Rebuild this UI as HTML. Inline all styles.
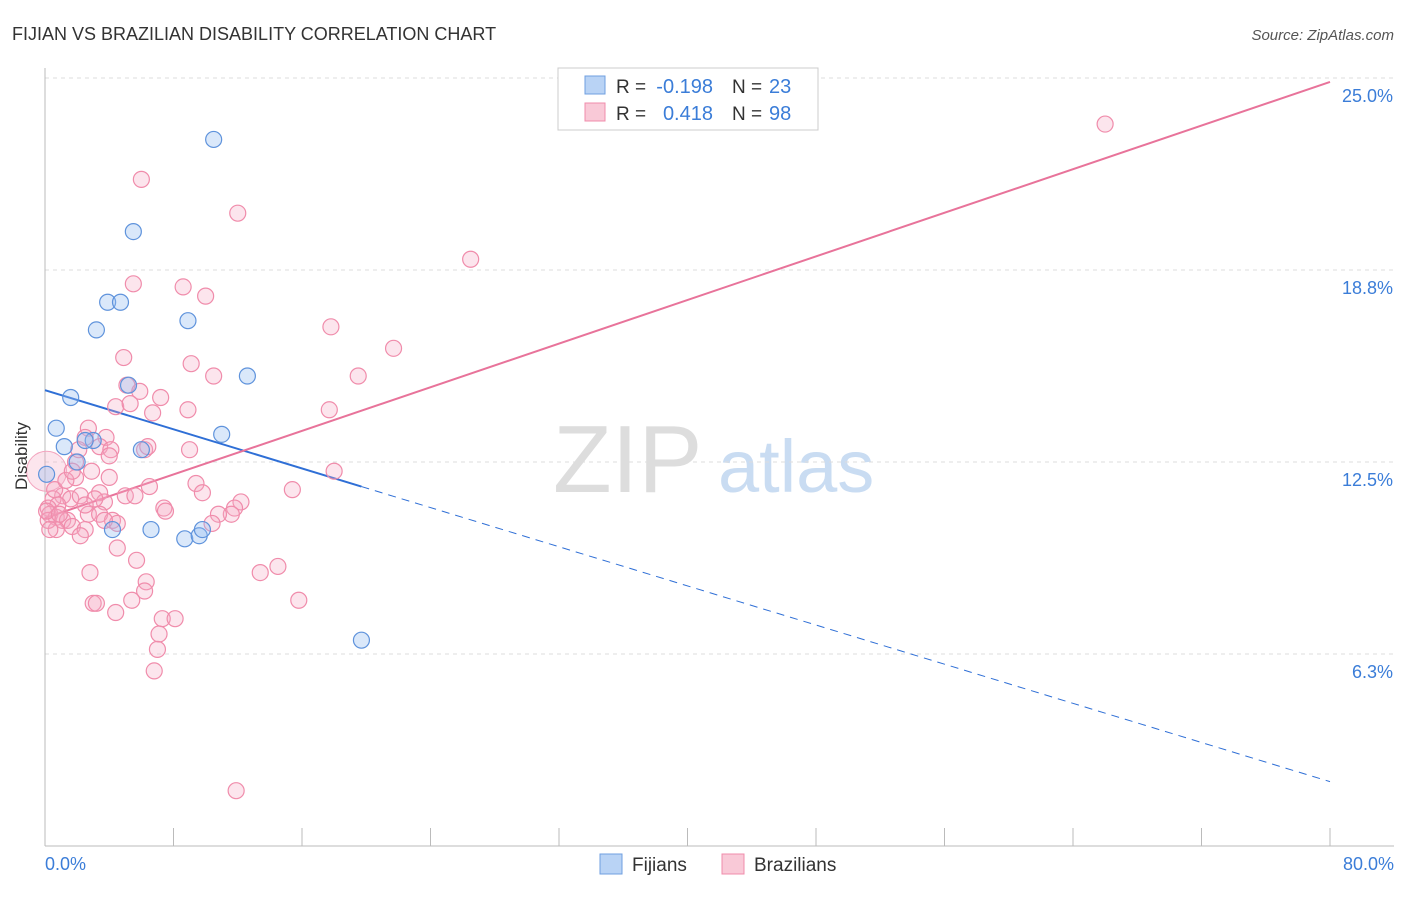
<!DOCTYPE html>
<html><head><meta charset="utf-8"><style>
body{margin:0;background:#fff;font-family:"Liberation Sans",sans-serif;}
svg text{font-family:"Liberation Sans",sans-serif;}
</style></head><body>
<svg id="chart" width="1406" height="892">
<text x="12" y="40" font-size="18" fill="#333">FIJIAN VS BRAZILIAN DISABILITY CORRELATION CHART</text>
<text x="1394" y="40" font-size="15" fill="#555" font-style="italic" text-anchor="end">Source: ZipAtlas.com</text>
<g><text x="553" y="492" font-size="96" fill="#ddd" font-family="Liberation Serif">ZIP</text><text x="718" y="492" font-size="74" fill="#c9dcf2">atlas</text></g>
<g id="grid"></g><g id="axes"></g><g id="lines"></g><g id="pts"></g>
<text x="27" y="456" font-size="17" fill="#333" transform="rotate(-90 27 456)" text-anchor="middle">Disability</text>
<g>
<rect x="558" y="68" width="260" height="62" fill="#fff" stroke="#ccc"/>
<rect x="585" y="76" width="20" height="18" fill="#b9d3f5" stroke="#6f9fe0"/>
<rect x="585" y="103" width="20" height="18" fill="#f9c9d7" stroke="#f08cab"/>
<text x="616" y="93" font-size="19" fill="#333">R =</text>
<text x="713" y="93" font-size="20" fill="#3b7dd8" text-anchor="end">-0.198</text>
<text x="732" y="93" font-size="19" fill="#333">N =</text>
<text x="769" y="93" font-size="20" fill="#3b7dd8">23</text>
<text x="616" y="120" font-size="19" fill="#333">R =</text>
<text x="713" y="120" font-size="20" fill="#3b7dd8" text-anchor="end">0.418</text>
<text x="732" y="120" font-size="19" fill="#333">N =</text>
<text x="769" y="120" font-size="20" fill="#3b7dd8">98</text>
</g>
<g>
<rect x="600" y="854" width="22" height="20" fill="#b9d3f5" stroke="#6f9fe0"/>
<text x="632" y="871" font-size="19" fill="#333">Fijians</text>
<rect x="722" y="854" width="22" height="20" fill="#f9c9d7" stroke="#f08cab"/>
<text x="754" y="871" font-size="19" fill="#333">Brazilians</text>
</g>
</svg>
<script>
const yTicks=[6.25,12.5,18.75,25];
const yTickLabels=["6.3%","12.5%","18.8%","25.0%"];
const xTicks=[0,8,16,24,32,40,48,56,64,72,80];
const fijianX=[10.5,5.5,3.9,4.7,3.2,8.9,12.6,1.6,5.2,0.7,11.0,1.2,3.0,2.5,6.0,2.0,0.1,4.2,6.6,8.7,9.6,9.8,19.7];
const fijianY=[23.0,20.0,17.7,17.7,16.8,17.1,15.3,14.6,15.0,13.6,13.4,13.0,13.2,13.2,12.9,12.5,12.1,10.3,10.3,10.0,10.1,10.3,6.7];
const brazX=[66.0,6.0,12.0,26.5,5.5,8.6,10.0,17.8,21.7,4.9,9.1,10.5,19.5,5.1,5.9,7.2,4.4,5.3,6.7,8.9,17.7,2.7,2.5,3.8,3.4,4.1,6.2,6.4,9.0,1.9,4.0,2.9,18.0,1.9,6.5,9.4,15.4,3.4,5.0,5.6,9.8,12.2,1.1,1.6,2.2,0.5,0.8,0.2,3.7,7.4,7.5,11.8,11.6,10.8,10.4,0.3,0.7,1.1,1.4,2.7,3.4,4.2,4.5,0.7,1.7,2.5,2.2,4.5,5.7,14.5,13.4,2.8,6.3,6.2,3.0,3.2,5.4,15.8,4.4,7.3,8.1,7.1,7.0,6.8,11.9,0.2,0.6,0.1,0.9,1.3,1.7,2.1,3.1,3.7,2.5,4.0,0.3];
const brazY=[23.5,21.7,20.6,19.1,18.3,18.2,17.9,16.9,16.2,15.9,15.7,15.3,15.3,15.0,14.8,14.6,14.3,14.4,14.1,14.2,14.2,13.6,13.3,13.3,13.0,12.9,12.9,13.0,12.9,12.5,12.7,12.2,12.2,11.99,11.7,11.8,11.6,11.5,11.4,11.4,11.5,11.2,11.4,11.3,11.4,11.3,11.1,11.0,11.2,11.0,10.9,11.0,10.8,10.8,10.5,10.8,10.7,10.6,10.6,10.8,10.8,10.6,10.5,10.3,10.4,10.3,10.1,9.7,9.3,9.1,8.9,8.9,8.6,8.3,7.9,7.9,8.0,8.0,7.6,7.4,7.4,6.9,6.4,5.7,1.8,10.6,11.6,10.9,10.8,11.9,12.2,12.9,11.3,10.6,11.1,12.0,10.3];
const X0=45,X1=1330,Y0=846,PX=30.72;
const xs=v=>X0+v/80*(X1-X0), ys=v=>Y0-v*PX;
const NS="http://www.w3.org/2000/svg";
function mk(parent,tag,attrs){const e=document.createElementNS(NS,tag);for(const k in attrs)e.setAttribute(k,attrs[k]);document.getElementById(parent).appendChild(e);return e;}
yTicks.forEach((t,i)=>{
 const g=mk('grid','line',{x1:X0,x2:1394,y1:ys(t),y2:ys(t),stroke:'#ddd','stroke-dasharray':'4,4'});
 
 
 const l=mk('axes','text',{x:1393,y:ys(t)+24,'font-size':18,fill:'#3b7dd8','text-anchor':'end'});l.textContent=yTickLabels[i];
 
 
});
const ax=mk('axes','line',{x1:X0,x2:1394,y1:Y0,y2:Y0,stroke:'#bbb'});


const ay=mk('axes','line',{x1:X0,x2:X0,y1:68,y2:Y0,stroke:'#bbb'});


xTicks.forEach(t=>{const k=mk('axes','line',{x1:xs(t),x2:xs(t),y1:Y0,y2:Y0-18,stroke:'#bbb'});
 
 });
const xl0=mk('axes','text',{x:45,y:870,'font-size':18,fill:'#3b7dd8'});xl0.textContent='0.0%';


const xl1=mk('axes','text',{x:1394,y:870,'font-size':18,fill:'#3b7dd8','text-anchor':'end'});xl1.textContent='80.0%';


function fit(X,Y){const n=X.length,mx=X.reduce((a,b)=>a+b)/n,my=Y.reduce((a,b)=>a+b)/n;let sxy=0,sxx=0;for(let i=0;i<n;i++){sxy+=(X[i]-mx)*(Y[i]-my);sxx+=(X[i]-mx)**2;}const b=sxy/sxx;return[my-b*mx,b];}
const [fa,fb]=fit(fijianX,fijianY),[ba,bb]=fit(brazX,brazY);
const xmaxF=Math.max(...fijianX);
let e=mk('lines','line',{x1:xs(0),y1:ys(fa),x2:xs(xmaxF),y2:ys(fa+fb*xmaxF),stroke:'#2f6fd6','stroke-width':2});


e=mk('lines','line',{x1:xs(xmaxF),y1:ys(fa+fb*xmaxF),x2:xs(80),y2:ys(fa+fb*80),stroke:'#2f6fd6','stroke-width':1,'stroke-dasharray':'8,6'});


e=mk('lines','line',{x1:xs(0),y1:ys(ba),x2:xs(80),y2:ys(ba+bb*80),stroke:'#e8739a','stroke-width':2});


e=mk('pts','circle',{cx:xs(0.1),cy:ys(12.2),r:20,fill:'rgba(245,170,195,0.3)',stroke:'#f3a5bf'});


brazX.forEach((v,i)=>{const c=mk('pts','circle',{cx:xs(v),cy:ys(brazY[i]),r:8,fill:'rgba(245,170,195,0.3)',stroke:'#f08cab','stroke-width':1.2});
 
 });
fijianX.forEach((v,i)=>{const c=mk('pts','circle',{cx:xs(v),cy:ys(fijianY[i]),r:8,fill:'rgba(150,190,240,0.35)',stroke:'#5f93dc','stroke-width':1.2});
 
 });
</script>
</body></html>
